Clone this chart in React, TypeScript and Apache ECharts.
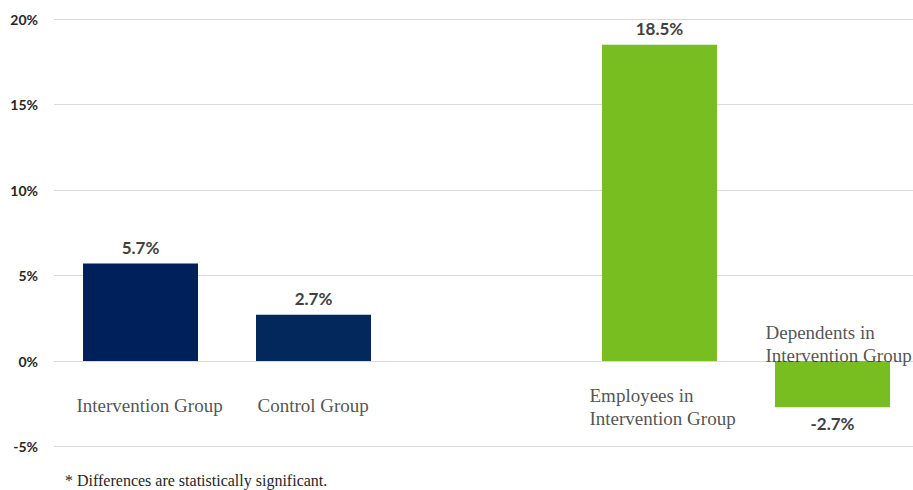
import React, { useEffect, useRef } from "react";
import * as echarts from "echarts";

const categories = [
  "Intervention Group",
  "Control Group",
  "",
  "Employees in\nIntervention Group",
  "Dependents in\nIntervention Group",
];
const values: (number | null)[] = [5.7, 2.7, null, 18.5, -2.7];
const barColors = ["#00205B", "#03295C", "#78BE20", "#78BE20", "#78BE20"];
const yTicks = [-5, 0, 5, 10, 15, 20];
const footnote = "* Differences are statistically significant.";

export default function App() {
  const ref = useRef<HTMLDivElement>(null);
  useEffect(() => {
    if (!ref.current) return;
    const chart = echarts.init(ref.current, undefined, { renderer: "svg" });
    const nameOffsets: [number, number][] = [
      [-64, 44],
      [-56, 44],
      [0, 44],
      [-70, 46],
      [-67, -17],
    ];
    chart.setOption({
      animation: false,
      grid: { left: 54, top: 19, right: 6, bottom: 43.5, containLabel: false },
      xAxis: {
        type: "category",
        data: categories,
        axisLine: { show: true, lineStyle: { color: "#D9D9D9", width: 1 } },
        axisTick: { show: false },
        axisLabel: { show: false },
        splitLine: { show: false },
      },
      yAxis: {
        type: "value",
        min: yTicks[0],
        max: yTicks[yTicks.length - 1],
        interval: 5,
        axisLine: { show: false },
        axisTick: { show: false },
        splitLine: { lineStyle: { color: "#D9D9D9", width: 1 } },
        axisLabel: {
          formatter: (v: number) => `${v}%`,
          fontFamily: "Lato",
          fontWeight: "bold",
          fontSize: 14,
          color: "#262626",
          margin: 16,
        },
      },
      series: [
        {
          type: "bar",
          barWidth: 115,
          data: values.map((v, i) => ({
            value: v,
            itemStyle: { color: barColors[i] },
            label: {
              show: v !== null,
              position: v !== null && v < 0 ? "bottom" : "top",
              distance: 8,
              formatter: (p: any) => `${Number(p.value).toFixed(1)}%`,
              fontFamily: "Lato",
              fontWeight: "bold",
              fontSize: 17,
              color: "#404040",
            },
          })),
        },
        {
          type: "scatter",
          symbolSize: 0,
          silent: true,
          data: categories.map((c, i) => ({
            value: c ? 0 : null,
            label: {
              show: !!c,
              position: "inside",
              offset: nameOffsets[i],
              formatter: () => c,
              fontFamily: "Liberation Serif",
              fontSize: 19,
              lineHeight: 23,
              color: "#262626",
              align: "left",
            },
          })),
        },
      ],
      graphic: [
        {
          type: "text",
          left: 65,
          top: 472,
          style: {
            text: footnote,
            fontFamily: "Liberation Serif",
            fontSize: 16,
            fill: "#262626",
          },
        },
      ],
    });
    return () => chart.dispose();
  }, []);
  return (
    <div style={{ width: 913, height: 490, position: "absolute", left: 0, top: 0, overflow: "hidden" }}>
      <div ref={ref} style={{ width: 925, height: 490 }} />
    </div>
  );
}
